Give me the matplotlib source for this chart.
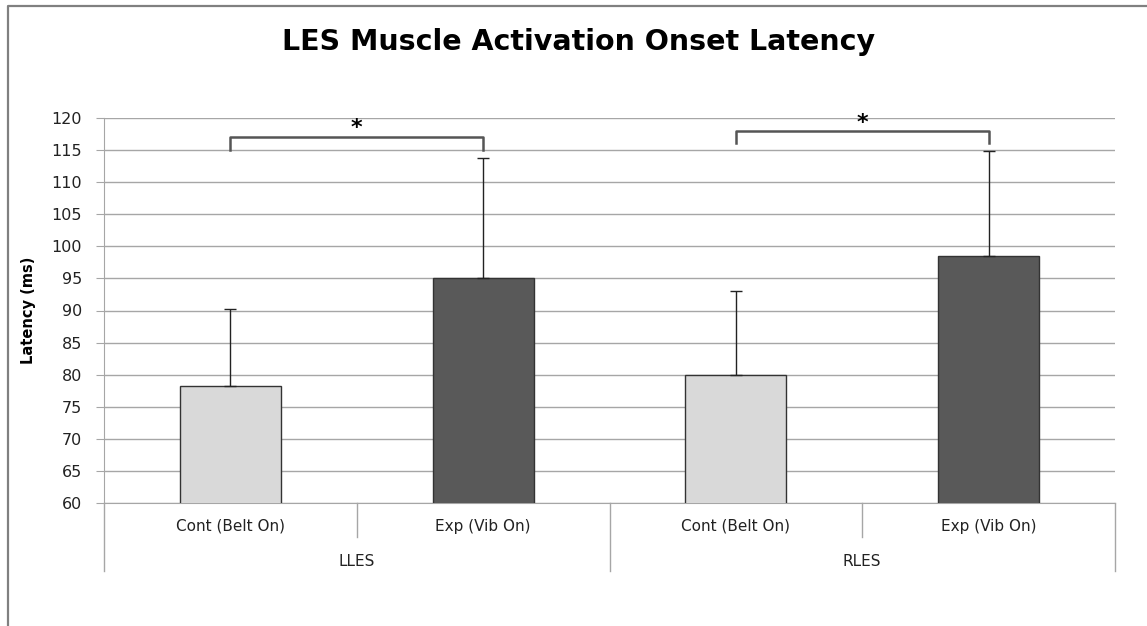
# LES muscle activation onset latency bar chart

import matplotlib.pyplot as plt
from matplotlib.lines import Line2D
import numpy as np

# Data
groups = ['LLES', 'RLES']
conditions = ['Cont (Belt On)', 'Exp (Vib On)']
latency = [78.2, 95.0, 80.0, 98.5]        # mean latency (ms)
latency_err = [12.0, 18.8, 13.1, 16.4]    # upper error (ms)
bar_colors = ['#d9d9d9', '#595959', '#d9d9d9', '#595959']

grid_col = '#a6a6a6'

fig = plt.figure(figsize=(11.47, 6.26), dpi=100)
ax = fig.add_axes([104 / 1147, 1 - 503 / 626, (1115 - 104) / 1147, 385 / 626])

x = np.arange(len(latency))
ax.bar(x, latency, width=0.4, color=bar_colors, edgecolor='#333333',
       linewidth=1, zorder=3)
ax.errorbar(x, latency, yerr=[np.zeros(len(latency)), latency_err],
            fmt='none', ecolor='#222222', elinewidth=1, capsize=4.5,
            capthick=1, zorder=4)

ax.set_xlim(-0.5, 3.5)
ax.set_ylim(60, 120)
ax.set_yticks(np.arange(60, 121, 5))
ax.yaxis.grid(True, color=grid_col, linewidth=1, zorder=0)
ax.tick_params(axis='y', length=6, color=grid_col, pad=10, labelsize=11.5,
               labelcolor='#222222')
ax.set_xticks([])
for side in ['top', 'right']:
    ax.spines[side].set_visible(False)
ax.spines['left'].set_color(grid_col)
ax.spines['bottom'].set_color(grid_col)

ax.set_ylabel('Latency (ms)', fontsize=10.5, fontweight='bold', labelpad=11)

# Two-level category axis
trans = ax.get_xaxis_transform()
for b in [0.5, 2.5]:
    ax.plot([b, b], [0, -0.088], color=grid_col, lw=1, transform=trans, clip_on=False)
for b in [-0.5, 1.5, 3.5]:
    ax.plot([b, b], [0, -0.177], color=grid_col, lw=1, transform=trans, clip_on=False)
for i, xi in enumerate(x):
    ax.text(xi, -0.06, conditions[i % 2], transform=trans, ha='center',
            va='center', fontsize=11, color='#222222')
for g, name in enumerate(groups):
    ax.text(2 * g + 0.5, -0.151, name, transform=trans, ha='center',
            va='center', fontsize=11, color='#222222')

# Significance brackets
brackets = [(0, 1, 117.0, 115.0, 118.4), (2, 3, 117.9, 116.1, 119.2)]
for x0, x1, top, leg, star_y in brackets:
    ax.plot([x0, x0, x1, x1], [leg, top, top, leg], color='#555555', lw=1.8,
            solid_joinstyle='round', zorder=5)
    ax.text((x0 + x1) / 2, star_y, '*', ha='center', va='center',
            fontsize=16, fontweight='bold', zorder=5)

fig.text(0.504, 0.933, 'LES Muscle Activation Onset Latency', ha='center',
         va='center', fontsize=20.5, fontweight='bold')

# Chart frame (top and left edges visible)
fig.add_artist(Line2D([8 / 1147, 8 / 1147, 1.0], [0.0, 1 - 6 / 626, 1 - 6 / 626],
                      color='#808080', lw=1.6, transform=fig.transFigure))

fig.savefig('out.png', dpi=100)
